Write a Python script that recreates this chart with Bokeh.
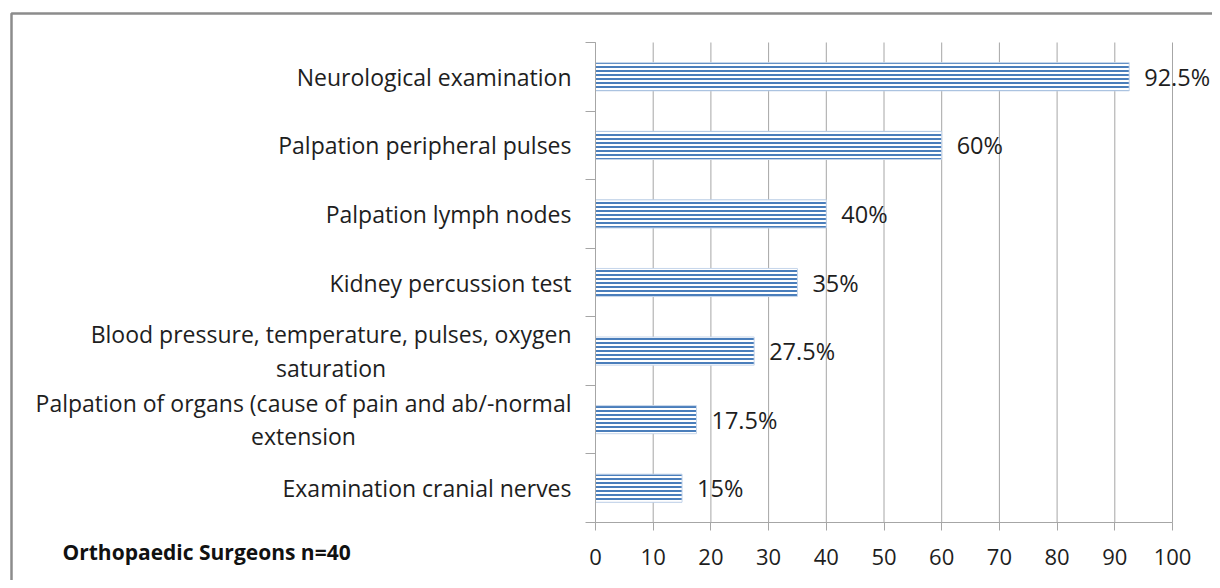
from bokeh.plotting import figure
from bokeh.models import FixedTicker, Range1d, Label, LabelSet, ColumnDataSource
from bokeh.core.properties import value
from bokeh.embed import file_html
from bokeh.resources import INLINE

categories = [
    "Neurological examination",
    "Palpation peripheral pulses",
    "Palpation lymph nodes",
    "Kidney percussion test",
    "Blood pressure, temperature, pulses, oxygen\nsaturation",
    "Palpation of organs (cause of pain and ab/-normal\nextension",
    "Examination cranial nerves",
]
percent = [92.5, 60, 40, 35, 27.5, 17.5, 15]
value_labels = ["92.5%", "60%", "40%", "35%", "27.5%", "17.5%", "15%"]
x_ticks = [0, 10, 20, 30, 40, 50, 60, 70, 80, 90, 100]
title_text = "Orthopaedic Surgeons n=40"

FONT = "Open Sans"
GRID = "#a6a6a6"
TXT = "#1e1e1e"

n = len(categories)
ypos = [n - i - 0.5 for i in range(n)]
src = ColumnDataSource(dict(y=ypos, v=percent, lab=value_labels))
gsrc = ColumnDataSource(dict(x=x_ticks, y0=[0] * len(x_ticks), y1=[n] * len(x_ticks)))

# layout (canvas pixels): whole canvas is the frame, axes are fixed inside it
W, H = 1212, 580
PX0, PX100 = 595, 1172
PY_TOP, PY_BOT = 42, 522
sx = (PX100 - PX0) / 100
sy = (PY_BOT - PY_TOP) / n
x_start, x_end = -PX0 / sx, 100 + (W - PX100) / sx
y_start, y_end = -(H - PY_BOT) / sy, n + PY_TOP / sy

p = figure(width=W, height=H, output_backend="svg", toolbar_location=None,
           x_range=Range1d(x_start, x_end), y_range=Range1d(y_start, y_end),
           min_border=0, outline_line_color=None)

# grid lines
p.segment(x0="x", y0="y0", x1="x", y1="y1", source=gsrc, line_color=GRID,
          line_width=1, level="underlay")

p.hbar(y="y", right="v", left=0, height=0.41, source=src,
       fill_color="white", line_color="#c5d5ea", line_width=1,
       hatch_pattern="horizontal_line", hatch_color="#4a7ebb",
       hatch_scale=4, hatch_weight=2)

p.add_layout(LabelSet(x="v", y="y", text="lab", source=src, x_offset=15,
                      text_baseline="middle", text_align="left",
                      text_font=value(FONT), text_font_size="23.5px", text_color=TXT))

# axes
p.xaxis.fixed_location = 0
p.xaxis.bounds = (0, 100)
p.xaxis.ticker = FixedTicker(ticks=x_ticks)
p.xaxis.axis_line_color = GRID
p.xaxis.major_tick_line_color = GRID
p.xaxis.major_tick_out = 8
p.xaxis.major_tick_in = 0
p.xaxis.minor_tick_line_color = None
p.xaxis.major_label_standoff = 18
p.xaxis.major_label_text_font = FONT
p.xaxis.major_label_text_font_size = "22px"
p.xaxis.major_label_text_color = TXT

p.yaxis.fixed_location = 0
p.yaxis.bounds = (0, n)
p.yaxis.ticker = FixedTicker(ticks=[], minor_ticks=[float(i) for i in range(n + 1)])
p.yaxis.axis_line_color = GRID
p.yaxis.major_tick_line_color = None
p.yaxis.major_label_text_font_size = "0px"
p.yaxis.minor_tick_line_color = GRID
p.yaxis.minor_tick_out = 10
p.yaxis.minor_tick_in = 0

p.xgrid.grid_line_color = None
p.ygrid.grid_line_color = None

# category labels: right edge 24px left of the axis, lines centred
for yc, cat in zip(ypos, categories):
    p.add_layout(Label(x=0, y=yc, x_offset=-24, text=cat, anchor="center_right",
                       text_align="center", text_baseline="middle",
                       text_line_height=1.05, text_font=FONT,
                       text_font_size="23px", text_color=TXT))

# outer frame border (left and top edges)
bx = x_start + 11 / sx
by = y_end - 13 / sy
p.line(x=[bx, bx, x_end + 1], y=[y_start - 1, by, by], line_color="#8c8c8c",
       line_width=2.5)

p.add_layout(Label(x=x_start + 62 / sx, y=y_end - 551 / sy, text=title_text,
                   text_font=FONT, text_font_size="21px", text_font_style="bold",
                   text_baseline="middle", text_align="left", text_color="#111111"))

open("out.html", "w").write(file_html(p, INLINE))
